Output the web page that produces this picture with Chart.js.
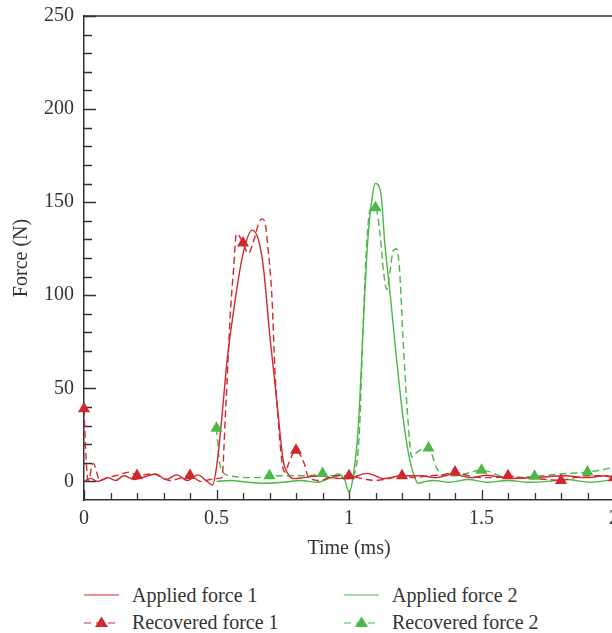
<!DOCTYPE html>
<html lang="en">
<head>
  <meta charset="UTF-8" />
  <title>Applied and recovered force</title>
  <script src="https://cdn.jsdelivr.net/npm/chart.js"></script>
  <style>
    body {
      margin: 0;
      width: 612px;
      height: 633px;
      overflow: hidden;
      position: relative;
      background: #fff;
      font-family: "Liberation Serif", "DejaVu Serif", serif;
      color: #333;
    }
    #wrap {
      position: absolute;
      left: 0;
      top: 0;
    }
    .item {
      position: absolute;
      font-size: 20px;
      line-height: 24px;
      white-space: nowrap;
    }
    .item svg {
      position: absolute;
      top: 5px;
    }
    .item span {
      position: absolute;
      top: 0;
    }
  </style>
</head>
<body>
  <div id="wrap"><canvas id="chart" width="640" height="570"></canvas></div>

  <div class="item" style="left:84px; top:583px;">
    <svg width="36" height="14"><line x1="0" y1="7" x2="35" y2="7" stroke="#d1282e" stroke-width="1.2"/></svg>
    <span style="left:48px;">Applied force 1</span>
  </div>
  <div class="item" style="left:84px; top:610px;">
    <svg width="36" height="14"><line x1="0" y1="8" x2="35" y2="8" stroke="#d1282e" stroke-width="1.2" stroke-dasharray="7,5"/><polygon points="17.5,1.5 24,12 11,12" fill="#d1282e"/></svg>
    <span style="left:48px;">Recovered force 1</span>
  </div>
  <div class="item" style="left:344px; top:583px;">
    <svg width="36" height="14"><line x1="0" y1="7" x2="35" y2="7" stroke="#4bb848" stroke-width="1.2"/></svg>
    <span style="left:48px;">Applied force 2</span>
  </div>
  <div class="item" style="left:344px; top:610px;">
    <svg width="36" height="14"><line x1="0" y1="8" x2="35" y2="8" stroke="#4bb848" stroke-width="1.2" stroke-dasharray="7,5"/><polygon points="17.5,1.5 24,12 11,12" fill="#4bb848"/></svg>
    <span style="left:48px;">Recovered force 2</span>
  </div>

  <script>
    // axis ticks
    const xTicks = [0, 0.5, 1, 1.5, 2];
    const yTicks = [0, 50, 100, 150, 200, 250];

    // applied force 1 (red solid)
    const app1T = [0, 0.025, 0.05, 0.09, 0.12, 0.15, 0.19, 0.23, 0.27, 0.31, 0.35, 0.39, 0.43, 0.46, 0.485, 0.5, 0.52, 0.54, 0.565, 0.59, 0.61, 0.634, 0.658, 0.677, 0.7, 0.727, 0.752, 0.77, 0.79, 0.83, 0.89, 0.93, 0.99, 1.07, 1.13, 1.2, 1.27, 1.33, 1.39, 1.46, 1.52, 1.61, 1.7, 1.82, 1.89, 1.97, 2.0];
    const app1F = [0, 1.6, 0, 2, 0.5, 3, 1, 2.5, 4, 1, 3.5, 0.5, 3.5, 0.5, -2, 7.5, 34, 65, 92, 115, 128, 135, 130, 115, 80, 44, 11, 4, 1.5, 2, 3, 2, 1.5, 4.3, 1.5, 3, 3, 2, 4, 2, 3.3, 1.6, 2, 3, 2, 3, 2.5];

    // recovered force 1 (red dashed)
    const rec1T = [0, 0.008, 0.015, 0.035, 0.06, 0.09, 0.13, 0.17, 0.2, 0.26, 0.325, 0.37, 0.4, 0.44, 0.495, 0.52, 0.535, 0.553, 0.565, 0.575, 0.59, 0.6, 0.62, 0.64, 0.66, 0.672, 0.683, 0.695, 0.71, 0.72, 0.735, 0.75, 0.76, 0.773, 0.8, 0.83, 0.848, 0.89, 0.95, 1.0, 1.05, 1.1, 1.15, 1.2, 1.25, 1.3, 1.35, 1.4, 1.45, 1.5, 1.55, 1.6, 1.65, 1.7, 1.75, 1.8, 1.85, 1.9, 1.95, 2.0];
    const rec1F = [39, 12, 0.5, 9.7, 0.5, 2, 3.5, 5, 3.2, 4, 0.5, 2, 3.2, 0, 1.5, 2, 40, 92, 115, 133, 131, 128, 122.5, 129, 139, 141, 139, 124, 97, 61, 29, 7.5, 5, 10, 16.7, 10, 2, 0.5, 3, 3, 1.5, 0.5, 1.5, 3, 2, 3, 3.5, 5, 3, 2, 2, 3, 2, 1.5, 1, 0.5, 2, 3, 3, 2];

    // applied force 2 (green solid)
    const app2T = [0.5, 0.55, 0.62, 0.68, 0.75, 0.82, 0.88, 0.93, 0.96, 0.985, 1.0, 1.015, 1.035, 1.05, 1.07, 1.09, 1.1, 1.12, 1.135, 1.155, 1.18, 1.205, 1.23, 1.25, 1.26, 1.29, 1.32, 1.38, 1.45, 1.52, 1.6, 1.68, 1.75, 1.82, 1.91, 2.0];
    const app2F = [0, 0.5, -0.5, -1, -0.5, 0.5, -0.5, 2, 4, 0.5, -6, 2, 29, 72, 128, 155, 160, 155, 128, 101, 65, 33, 11, 1.5, -1, 0, 0.5, -0.5, 1, -0.5, 0.5, -0.5, 0, 1, -0.5, 1];

    // recovered force 2 (green dashed)
    const rec2T = [0.5, 0.515, 0.55, 0.65, 0.7, 0.78, 0.85, 0.9, 0.95, 0.99, 1.02, 1.04, 1.053, 1.067, 1.08, 1.1, 1.117, 1.13, 1.143, 1.155, 1.167, 1.18, 1.19, 1.205, 1.22, 1.237, 1.25, 1.3, 1.33, 1.355, 1.4, 1.5, 1.6, 1.7, 1.8, 1.9, 2.0];
    const rec2F = [28.5, 7.5, 3, 2, 3, 3, 3, 4.3, 2.5, 2, 4, 29, 83, 128, 146, 147, 133, 113, 103, 113, 124, 125, 115, 74, 38, 13, 15, 18, 7.5, 3, 3, 6, 2, 2.7, 4, 5, 7.5];

    // triangle markers on the recovered curves
    const mark1T = [0, 0.2, 0.4, 0.6, 0.8, 1.0, 1.2, 1.4, 1.6, 1.8, 2.0];
    const mark1F = [39, 3.2, 3.2, 128, 16.7, 3, 3, 5, 3, 0.5, 2];
    const mark2T = [0.5, 0.7, 0.9, 1.1, 1.3, 1.5, 1.7, 1.9];
    const mark2F = [28.5, 3, 4.3, 147, 18, 6, 2.7, 5];

    const red = '#d1282e';
    const green = '#4bb848';
    const axisColor = '#333';
    const font = { family: '"Liberation Serif", "DejaVu Serif", serif', size: 20 };

    const pts = (t, f) => t.map((x, i) => ({ x: x, y: f[i] }));

    function curve(t, f, color, dash) {
      return {
        data: pts(t, f),
        borderColor: color,
        borderWidth: 1.4,
        borderDash: dash,
        pointRadius: 0,
        fill: false,
        showLine: true,
        cubicInterpolationMode: 'monotone'
      };
    }

    function markers(t, f, color) {
      return {
        data: pts(t, f),
        showLine: false,
        pointStyle: 'triangle',
        pointRadius: 7,
        backgroundColor: color,
        borderColor: color,
        borderWidth: 0,
        clip: false
      };
    }

    // inner tick marks and the top frame line
    const frame = {
      id: 'frame',
      beforeDatasetsDraw(chart) {
        const { ctx, chartArea: a, scales: { x, y } } = chart;
        ctx.save();
        ctx.strokeStyle = axisColor;
        ctx.lineWidth = 1.3;
        ctx.beginPath();
        for (let v = 0; v <= 250; v += 10) {
          const py = Math.round(y.getPixelForValue(v)) + 0.5;
          const len = v % 50 === 0 ? 12 : 8;
          ctx.moveTo(a.left, py);
          ctx.lineTo(a.left + len, py);
        }
        for (let k = 0; k <= 20; k++) {
          const px = Math.round(x.getPixelForValue(k / 10)) + 0.5;
          const len = k % 5 === 0 ? 10 : 7;
          ctx.moveTo(px, a.bottom);
          ctx.lineTo(px, a.bottom - len);
        }
        ctx.stroke();
        ctx.lineWidth = 1.5;
        ctx.beginPath();
        ctx.moveTo(a.left, a.top);
        ctx.lineTo(a.right, a.top);
        ctx.lineTo(a.right, a.bottom);
        ctx.stroke();
        ctx.restore();
      }
    };

    new Chart(document.getElementById('chart').getContext('2d'), {
      type: 'scatter',
      data: {
        datasets: [
          markers(mark1T, mark1F, red),
          markers(mark2T, mark2F, green),
          curve(rec1T, rec1F, red, [7, 4]),
          curve(app1T, app1F, red, []),
          curve(rec2T, rec2F, green, [7, 4]),
          curve(app2T, app2F, green, [])
        ]
      },
      options: {
        responsive: false,
        animation: false,
        layout: { padding: { top: 16, right: 26, bottom: 0, left: 0 } },
        plugins: { legend: { display: false }, tooltip: { enabled: false } },
        scales: {
          x: {
            type: 'linear',
            min: 0,
            max: 2,
            afterBuildTicks: s => { s.ticks = xTicks.map(v => ({ value: v })); },
            afterFit: s => { s.height = 70; s.paddingLeft = 0; s.paddingRight = 0; },
            ticks: { font: font, color: axisColor, padding: 7, maxRotation: 0, autoSkip: false, callback: v => String(v) },
            grid: { display: false, drawTicks: false },
            border: { display: true, color: axisColor, width: 1.5 },
            title: { display: true, text: 'Time (ms)', font: font, color: axisColor, padding: { top: 0, bottom: 9 } }
          },
          y: {
            min: -10,
            max: 250,
            afterBuildTicks: s => { s.ticks = yTicks.map(v => ({ value: v })); },
            afterFit: s => { s.width = 84; s.paddingTop = 0; s.paddingBottom = 0; },
            ticks: { font: font, color: axisColor, padding: 10 },
            grid: { display: false, drawTicks: false },
            border: { display: true, color: axisColor, width: 1.5 },
            title: { display: true, text: 'Force (N)', font: font, color: axisColor, padding: { top: 10, bottom: 0 } }
          }
        }
      },
      plugins: [frame]
    });
  </script>
</body>
</html>
